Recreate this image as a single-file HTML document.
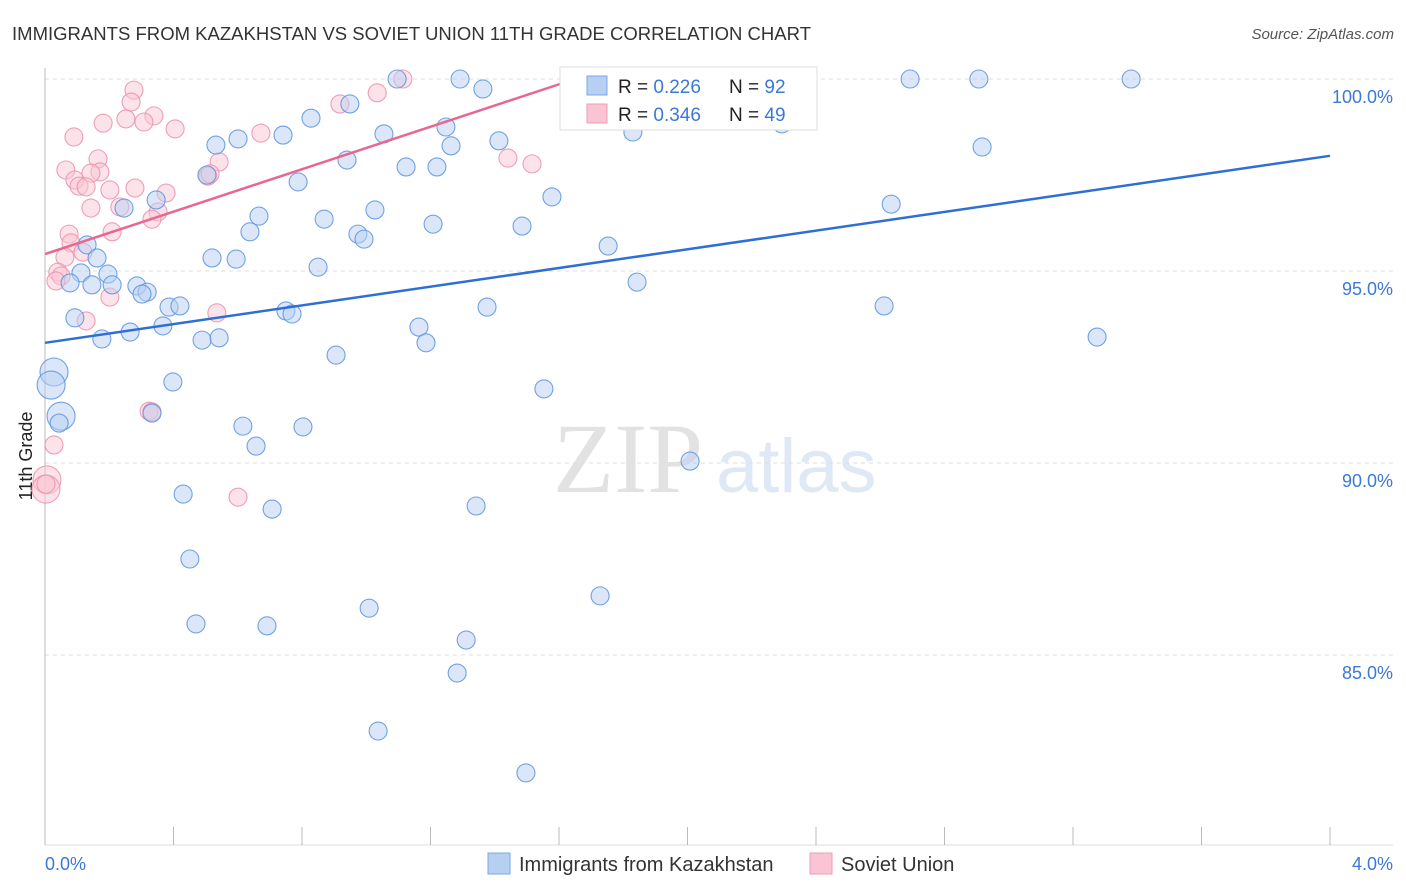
<!DOCTYPE html>
<html><head><meta charset="utf-8"><style>
body{margin:0;background:#fff;font-family:"Liberation Sans",sans-serif}
svg{display:block}
</style></head><body>
<svg width="1406" height="892" xmlns="http://www.w3.org/2000/svg" font-family="Liberation Sans, sans-serif">
<text x="12" y="40" font-size="18.5" fill="#333" textLength="799">IMMIGRANTS FROM KAZAKHSTAN VS SOVIET UNION 11TH GRADE CORRELATION CHART</text>
<text x="1394" y="39" font-size="15" fill="#555" text-anchor="end" font-style="italic">Source: ZipAtlas.com</text>
<text x="32" y="456" font-size="18" fill="#222" text-anchor="middle" transform="rotate(-90 32 456)">11th Grade</text>
<g><text x="553" y="492" font-size="100" fill="#e2e2e2" font-family="Liberation Serif, serif">ZIP</text><text x="716" y="492" font-size="76" fill="#dfe8f5">atlas</text></g>
<g id="grid"></g><g id="axes"></g><g id="pts"></g><g id="lines"></g>
<g>
<rect x="560" y="67" width="257" height="63" fill="#fff" stroke="#ddd"/>
<rect x="587" y="76" width="20" height="19" fill="#b7d0f2" stroke="#7aa7e6"/>
<rect x="587" y="104" width="20" height="19" fill="#f9c5d4" stroke="#ef9bb4"/>
<text x="618" y="93" font-size="19" fill="#222">R = <tspan fill="#3b78d8">0.226</tspan></text>
<text x="729" y="93" font-size="19" fill="#222">N = <tspan fill="#3b78d8">92</tspan></text>
<text x="618" y="121" font-size="19" fill="#222">R = <tspan fill="#3b78d8">0.346</tspan></text>
<text x="729" y="121" font-size="19" fill="#222">N = <tspan fill="#3b78d8">49</tspan></text>
</g>
<g>
<rect x="488" y="853" width="22" height="21" fill="#b7d0f2" stroke="#7aa7e6"/>
<text x="519" y="871" font-size="20" fill="#333">Immigrants from Kazakhstan</text>
<rect x="810" y="853" width="22" height="21" fill="#f9c5d4" stroke="#ef9bb4"/>
<text x="841" y="871" font-size="20" fill="#333">Soviet Union</text>
</g>
</svg>
<script>
const blueX=[1.096,1.292,1.363,2.693,2.907,3.381,0.828,0.949,0.601,0.532,0.741,1.055,1.248,1.264,1.413,1.830,2.294,2.917,0.940,1.124,1.220,0.788,0.504,1.578,2.634,0.346,0.246,0.666,0.869,1.027,1.208,0.638,0.974,0.993,1.485,0.131,1.753,0.162,0.520,0.595,0.850,0.112,0.196,0.078,0.146,0.209,0.286,0.318,0.302,1.843,0.386,0.420,1.376,2.612,0.093,0.750,0.769,0.367,0.265,0.177,0.489,0.542,1.164,1.186,3.275,0.906,0.028,0.019,0.398,1.553,0.050,0.044,0.333,0.616,0.803,0.657,2.008,0.430,0.707,1.342,0.451,1.728,1.009,0.470,0.691,1.311,1.283,1.037,1.497,1.718,2.244];
const blueY=[100,100,99.74,100,100,100,98.98,99.35,98.44,98.28,98.54,98.57,98.75,98.26,98.39,98.62,98.83,98.23,97.89,97.71,97.71,97.32,97.50,96.93,96.74,96.85,96.64,96.43,96.35,96.59,96.22,96.02,95.96,95.83,96.17,95.68,95.65,95.34,95.34,95.31,95.10,94.95,94.92,94.69,94.64,94.64,94.61,94.45,94.40,94.71,94.06,94.09,94.06,94.09,93.78,93.96,93.88,93.57,93.41,93.23,93.20,93.26,93.54,93.13,93.28,92.81,92.37,92.03,92.11,91.93,91.22,91.04,91.30,90.96,90.94,90.44,90.05,89.19,88.80,88.88,87.50,86.54,86.22,85.81,85.76,85.39,84.53,83.02,81.93,99.56,99.24];
const blueBig=[66,67,70];
const pinkX=[1.114,1.034,0.277,0.268,0.918,0.339,0.252,0.308,0.181,0.405,0.672,0.090,0.165,0.542,1.441,1.516,0.065,0.171,0.093,0.143,0.106,0.128,0.507,0.202,0.280,0.377,0.233,0.143,0.352,0.333,0.209,0.075,0.081,0.118,0.062,0.040,0.050,0.034,0.202,0.535,0.128,0.324,0.028,0.601,0.006,0.003,0.333,0.514,0.003];
const pinkY=[100,99.64,99.71,99.40,99.35,99.04,98.96,98.88,98.85,98.70,98.59,98.49,97.92,97.84,97.94,97.79,97.63,97.58,97.37,97.55,97.21,97.19,97.47,97.11,97.16,97.03,96.67,96.64,96.54,96.35,96.02,95.96,95.73,95.49,95.36,94.97,94.87,94.74,94.32,93.91,93.70,91.35,90.47,89.11,89.56,89.32,91.33,97.53,89.45];
const pinkBig=[44,45];
const blueTrend=[[0,93.13],[4.0,98.0]];
const pinkTrend=[[0,95.44],[1.65,100]];
const yTicks=[100,95,90,85];
const yTickLabels=["100.0%","95.0%","90.0%","85.0%"];
const xTickVals=[0,0.4,0.8,1.2,1.6,2.0,2.4,2.8,3.2,3.6,4.0];
const xEndLabels=["0.0%","4.0%"];

const NS="http://www.w3.org/2000/svg";
const X0=45,X1=1330,Y100=79,PXPER=38.4;
const sx=v=>X0+(X1-X0)*v/4;
const sy=v=>Y100+(100-v)*PXPER;
function mk(tag,attrs,parent){const e=document.createElementNS(NS,tag);for(const k in attrs)e.setAttribute(k,attrs[k]);parent.appendChild(e);return e;}
const grid=document.getElementById('grid'),axes=document.getElementById('axes'),pts=document.getElementById('pts'),lines=document.getElementById('lines');
yTicks.forEach((t,i)=>{
 const l=mk('line',{x1:X0,x2:1393,y1:sy(t),y2:sy(t),stroke:'#ddd','stroke-dasharray':'4 4'},grid);
 
 
 const tx=mk('text',{x:1393,y:sy(t)+24,'font-size':18,fill:'#3b78d8','text-anchor':'end'},axes);
 tx.textContent=yTickLabels[i];
 
 
});
const ya=mk('line',{x1:X0,x2:X0,y1:68,y2:845,stroke:'#bbb'},axes);


const xa=mk('line',{x1:X0,x2:1393,y1:845,y2:845,stroke:'#ddd'},axes);


xTickVals.forEach(v=>{
 const t=mk('line',{x1:sx(v),x2:sx(v),y1:827,y2:845,stroke:'#bbb'},axes);
 
 
});
[[0,'start',45],[4,'end',1393]].forEach((d,i)=>{
 const t=mk('text',{x:d[2],y:870,'font-size':18,fill:'#3b78d8','text-anchor':d[1]},axes);
 t.textContent=xEndLabels[i];
 
 
});
function dots(xs,ys,big,fill,stroke,name){
 xs.forEach((x,i)=>{
  const r=big.includes(i)?14:9;
  const c=mk('circle',{cx:sx(x),cy:sy(ys[i]),r:r,fill:fill,'fill-opacity':0.5,stroke:stroke,'stroke-width':1.1,'stroke-opacity':0.85},pts);
  
  
 });
}
dots(pinkX,pinkY,pinkBig,'#f9c5d4','#ec8fab','point-soviet-union');
dots(blueX,blueY,blueBig,'#b7d0f2','#5b93e0','point-kazakhstan');
const bl=mk('line',{x1:sx(blueTrend[0][0]),y1:sy(blueTrend[0][1]),x2:sx(blueTrend[1][0]),y2:sy(blueTrend[1][1]),stroke:'#2e6fd6','stroke-width':2.5},lines);


const pl=mk('line',{x1:sx(pinkTrend[0][0]),y1:sy(pinkTrend[0][1]),x2:sx(pinkTrend[1][0]),y2:sy(pinkTrend[1][1]),stroke:'#e8678f','stroke-width':2.5},lines);


</script>
</body></html>
